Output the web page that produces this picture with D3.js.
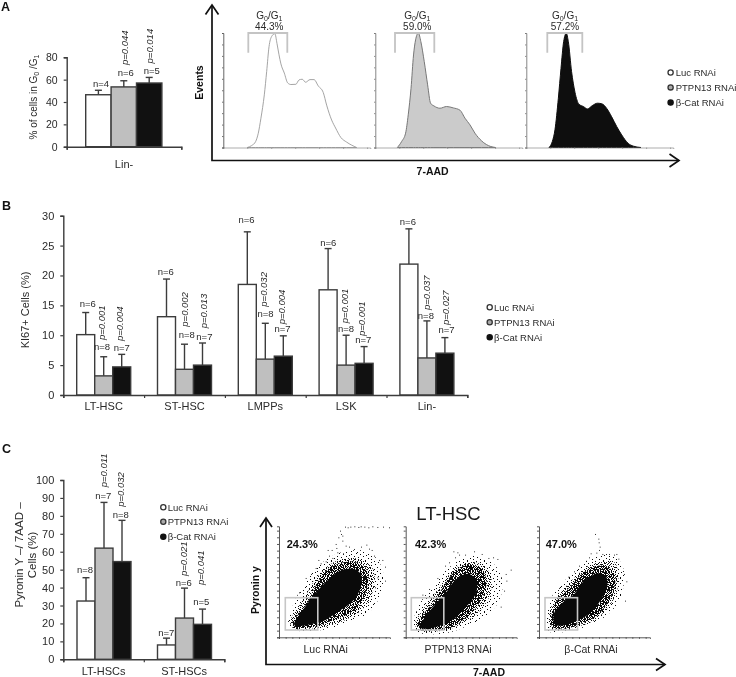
<!DOCTYPE html>
<html><head><meta charset="utf-8">
<script src="https://cdn.jsdelivr.net/npm/d3@7"></script>
<style>
html,body{margin:0;padding:0;background:#fff}
svg{display:block;filter:blur(0.35px)}
text{font-family:"Liberation Sans",Arial,sans-serif;fill:#2a2a2a}
</style></head><body><div id="c"></div>
<script>
// ---------- data ----------
const seriesNames = ["Luc RNAi","PTPN13 RNAi","β-Cat RNAi"];

const linCats = ["Lin-"];
const g0Means = [[46.5,53.5,57]];
const g0Tops  = [[50.5,59,62]];
const g0N     = [[4,6,5]];
const g0P     = [["0.044","0.014"]];

const ki67Cats  = ["LT-HSC","ST-HSC","LMPPs","LSK","Lin-"];
const ki67Means = [[10.1,3.2,4.7],[13.1,4.3,5],[18.5,6,6.5],[17.6,5,5.3],[21.9,6.2,7]];
const ki67Tops  = [[13.8,6.4,6.8],[19.4,8.5,8.7],[27.3,12,9.9],[24.5,10,8.1],[27.8,12.4,9.6]];
const ki67N     = [[6,8,7],[6,8,7],[6,8,7],[6,8,7],[6,8,7]];
const ki67P     = [["0.001","0.004"],["0.002","0.013"],["0.032","0.004"],["0.001","0.001"],["0.037","0.027"]];

const pyCats  = ["LT-HSCs","ST-HSCs"];
const pyMeans = [[32.5,62,54.5],[8,23,19.5]];
const pyTops  = [[45.5,87.5,77.5],[11.8,39.7,28]];
const pyN     = [[8,7,8],[7,6,5]];
const pyP     = [["0.011","0.032"],["0.021","0.041"]];

// histograms: [channel, % of max]
const histLuc = [[16.3,0],[19.3,1.7],[22,5.2],[23.8,12.5],[25.6,25.6],[27.9,46],[29.5,66.3],[31.1,88],[32.9,97],[35.1,99.4],[36.5,91],[37.9,81],[39.2,73],[41.5,65],[43.8,56.4],[46,55],[49.4,55.2],[51.5,59],[53.7,59.6],[56,57],[59,59.3],[61.7,59.3],[64.6,53.8],[68,48],[70.3,37],[73.7,24],[76.4,17],[80,8.7],[83.9,4.7],[90.7,0]];
const histPtpn = [[15,0],[17.9,5.2],[20.6,12.5],[22.4,28.5],[24.3,51.7],[26,80.8],[27.4,94],[29.3,100],[31,92.4],[33.3,75],[35.6,54.7],[37.6,38.7],[39.9,36.3],[44,34.3],[48.5,35.8],[53,34.6],[57.6,32.6],[61,25.6],[64.4,19.8],[67.8,12.5],[72.3,5.8],[76.9,1.7],[81.9,0]];
const histCat = [[15.4,0],[17.7,5.2],[19.5,15.4],[21.8,43],[23.6,69],[25.4,92.4],[27.2,99.7],[28.6,92.4],[30.8,66.3],[33.1,48.3],[35.8,37.8],[38.8,35.8],[41.7,33.7],[44.9,36.6],[48.5,38.7],[51.7,38],[54.6,34.3],[58,27],[61.5,18.3],[64.9,11],[69.4,3.5],[72.8,1.2],[78,0]];
const histPct = ["44.3%","59.0%","57.2%"];

// Scatter density outlines and hand-read stray events, in channel units [0,333]
const scCore1 = [[45,40],[60,66],[80,94],[100,120],[125,150],[150,175],[175,195],[200,205],[225,205],[245,190],[248,162],[238,132],[222,110],[205,95],[185,82],[160,65],[135,50],[108,42],[73,35],[48,35]];
const scIn1   = [[40,42],[60,72],[85,104],[113,160],[143,202],[183,222],[223,227],[258,212],[268,182],[262,142],[245,102],[218,75],[178,57],[138,42],[108,32],[48,30]];
const scMid1  = [[33,45],[50,80],[75,115],[105,168],[148,215],[190,235],[240,235],[282,205],[285,155],[270,110],[240,75],[195,50],[140,32],[105,27],[45,26]];
const scOut1  = [[28,40],[50,115],[80,165],[110,205],[145,235],[200,258],[270,255],[310,205],[305,130],[270,75],[200,42],[130,22],[45,22]];
const scDots1 = [[198,332],[206,330],[214,332],[226,333],[238,331],[245,333],[256,332],[268,330],[280,333],[295,331],[312,332],[330,330],[183,320],[186,310],[178,300],[190,290],[170,280],[200,275],[158,262],[175,255],[192,252],[150,245],[160,238],[140,228],[125,222],[110,208],[210,272],[225,265],[270,266],[285,245],[300,232],[310,232],[278,262],[295,180],[288,150],[318,170],[190,305],[172,268],[146,262],[118,232],[96,190],[80,178],[60,135],[246,272],[318,212],[262,278]];
const scCore2 = [[41,33],[56,58],[76,84],[98,110],[118,130],[138,160],[163,183],[190,190],[212,172],[212,135],[196,108],[175,85],[153,62],[128,45],[98,33],[68,26],[43,28]];
const scIn2   = [[34,38],[52,68],[80,102],[112,150],[147,198],[182,218],[222,212],[242,172],[232,122],[205,82],[172,52],[132,28],[90,22],[45,22]];
const scMid2  = [[28,38],[48,78],[78,118],[112,165],[153,210],[190,226],[236,214],[258,172],[248,116],[215,72],[170,42],[126,22],[88,18],[45,18]];
const scOut2  = [[22,32],[45,105],[82,155],[118,198],[158,230],[205,245],[262,222],[290,170],[278,105],[232,58],[170,28],[118,12],[45,12]];
const scDots2 = [[143,258],[155,255],[160,248],[205,258],[248,238],[275,235],[315,203],[300,190],[302,170],[295,140],[285,92],[130,225],[118,215],[95,178],[70,145],[50,128],[178,248],[228,250],[262,240],[148,240]];
const scCore3 = [[48,38],[45,72],[63,96],[83,115],[106,130],[126,160],[151,181],[178,192],[200,184],[205,152],[190,120],[170,90],[143,65],[113,50],[83,38]];
const scIn3   = [[40,32],[38,70],[53,108],[78,135],[103,162],[135,195],[165,212],[205,212],[228,185],[222,135],[200,95],[170,62],[130,42],[90,28]];
const scMid3  = [[35,26],[32,75],[50,118],[80,152],[112,184],[147,214],[190,226],[225,226],[237,195],[232,132],[205,87],[168,52],[120,33],[72,22]];
const scOut3  = [[28,18],[26,82],[46,135],[82,175],[118,210],[158,238],[220,248],[252,210],[248,128],[215,76],[165,42],[108,22],[50,14]];
const scDots3 = [[168,310],[178,296],[179,285],[182,272],[180,262],[155,252],[172,254],[190,250],[238,236],[225,248],[210,250],[120,215],[105,198],[88,182],[255,190],[262,168],[232,250],[60,148],[258,110],[150,240]];
const scPct = ["24.3%","42.3%","47.0%"];
const scLabels = seriesNames;

// Hand-drawn texture masks for event density
const denseMask = ["#.##.#.##..#.##.",".##.#..#.##.#..#","#..##.##.#.##.#.",".#.#.#..##.#.###","##..#.#.#..##.#.",".#.##.##.#.#..##","#.#..#.#.##.#.#.","..##.##..#.#.##.","#.#.#..##.#..#.#",".##.#.#.#.###.#.","#..#.##.#..#.#.#",".#.#.#..##.#.##.","##.#..#.#.##..#.",".#..##.#.#..#.##","#.##.#..##.#.#..",".#.#.#.#..#.##.#"];
const mediumMask = ["#...#..#...#.","..#....#.#...",".#..#.....#.#","...#..#.#....","#.....#...#..","..#.#....#..#",".....#.#.....","#.#.....#.#..","...#.#.....#.",".#....#.#....","...#.....#..#","#....#.#.....","..#.#.....#.."];
const sparseMask = ["#.......#........","....#.........#..","..........#......",".#....#..........","..............#..","........#........","...#.........#...","...........#.....","#.....#..........","................#","...#.......#.....",".........#.......","......#.......#..",".#...............","...........#.....","....#.........#..","........#........"];

// ---------- layout ----------
const W=736,H=677;
const svg=d3.select("#c").append("svg").attr("width",W).attr("height",H).attr("viewBox",`0 0 ${W} ${H}`);
const defs=svg.append("defs");
function tile(id,mask){
  const pts=[];
  mask.forEach((row,j)=>row.split("").forEach((ch,i)=>{if(ch==="#")pts.push([i,j]);}));
  const p=defs.append("pattern").attr("id",id).attr("patternUnits","userSpaceOnUse").attr("width",mask[0].length).attr("height",mask.length);
  p.selectAll("rect").data(pts).join("rect").attr("x",d=>d[0]).attr("y",d=>d[1]).attr("width",1).attr("height",1).attr("fill","#0a0a0a");
}
tile("dense",denseMask);tile("medium",mediumMask);tile("sparse",sparseMask);

const AXC="#3c3c3c", fills=["#fff","#bfbfbf","#111"];

function letter(t,x,y){svg.append("text").attr("x",x).attr("y",y).attr("font-size",12.5).attr("font-weight","bold").style("fill","#111").text(t);}
letter("A",1,11);letter("B",2,210);letter("C",2,453);

function barChart(c){
  const g=svg.append("g");
  const y=d3.scaleLinear().domain([0,c.max]).range([c.y0,c.y1]);
  const x=d3.scaleBand().domain(c.cats).range([c.x0,c.x1]);
  const edge=d3.scaleLinear().domain([0,c.cats.length]).range([c.x0,c.x1]);
  const inner=d3.scaleBand().domain([0,1,2]).range([c.pad,c.pad+c.bw*3]);

  c.cats.forEach((cat,i)=>{
    const gx=x(cat);
    [0,1,2].forEach(s=>{
      const bx=gx+inner(s), cx=bx+c.bw/2;
      g.append("line").attr("x1",cx).attr("x2",cx).attr("y1",y(c.means[i][s])).attr("y2",y(c.tops[i][s])).attr("stroke",AXC).attr("stroke-width",1.4);
      g.append("line").attr("x1",cx-3.5).attr("x2",cx+3.5).attr("y1",y(c.tops[i][s])).attr("y2",y(c.tops[i][s])).attr("stroke",AXC).attr("stroke-width",1.4);
      g.append("rect").attr("x",bx).attr("width",inner.bandwidth()).attr("y",y(c.means[i][s])).attr("height",c.y0-y(c.means[i][s]))
        .attr("fill",fills[s]).attr("stroke",AXC).attr("stroke-width",1.4);
      const k=i*3+s;
      g.append("text").attr("x",cx+c.nDx[k]).attr("y",y(c.tops[i][s])-c.nLift[k]).attr("text-anchor","middle").attr("font-size",9.5).text("n="+c.n[i][s]);
      if(s>0){
        const m=i*2+s-1, tx=cx+c.pDx[m]+3.2, ty=y(c.tops[i][s])-c.pLift[m];
        g.append("text").attr("transform",`translate(${tx},${ty}) rotate(-90)`).attr("font-size",9.5).attr("font-style","italic").text("p="+c.p[i][s-1]);
      }
    });
  });
  const ya=g.append("g").attr("transform",`translate(${c.x0},0)`).call(d3.axisLeft(y).tickValues(c.ticks).tickSize(3).tickPadding(6));
  const xa=g.append("g").attr("transform",`translate(0,${c.y0})`).call(d3.axisBottom(edge).tickValues(d3.range(c.cats.length+1)).tickSize(3).tickFormat(""));
  const xl=g.append("g").attr("transform",`translate(0,${c.y0})`).call(d3.axisBottom(x).tickSize(0).tickPadding(c.lp));
  xl.select(".domain").remove();
  [ya,xa].forEach(a=>{a.select(".domain").attr("stroke",AXC).attr("stroke-width",1.4);a.selectAll("line").attr("stroke",AXC).attr("stroke-width",1.2);});
  ya.attr("font-family",null);xl.attr("font-family",null);
  ya.selectAll("text").attr("font-size",c.tf).style("fill","#2a2a2a");
  xl.selectAll("text").attr("font-size",11).style("fill","#2a2a2a");
}

barChart({cats:linCats,means:g0Means,tops:g0Tops,n:g0N,p:g0P,max:80,ticks:[0,20,40,60,80],
  x0:66.7,x1:181.3,y0:146.7,y1:57.3,pad:19,bw:25.4,tf:10.5,lp:14,
  nDx:[2.6,1.9,2.5],nLift:[3.6,4.8,3.4],pDx:[1.2,.1],pLift:[15.8,14]});
barChart({cats:ki67Cats,means:ki67Means,tops:ki67Tops,n:ki67N,p:ki67P,max:30,ticks:d3.range(0,31,5),
  x0:63.3,x1:467.3,y0:395,y1:215.7,pad:13.4,bw:18,tf:11,lp:7,
  nDx:[2,-1.7,0,-.7,2.3,1.9,-.7,.3,-.7,.2,0,-.8,-1,-1,1.6],nLift:[5.3,6.7,3.3,4,6,3.5,9,6,3.5,3,3.5,3.5,3.5,2,4.5],
  pDx:[-2,-1.7,.6,.9,-1.1,-1.7,-1.1,-2.4,0,1],pLift:[16.7,13.3,17.5,14.7,16.6,11.5,11.9,10.6,10.9,12.6]});
barChart({cats:pyCats,means:pyMeans,tops:pyTops,n:pyN,p:pyP,max:100,ticks:d3.range(0,101,10),
  x0:63.3,x1:224.3,y0:659.3,y1:480,pad:13.7,bw:18,tf:11,lp:8,
  nDx:[-1,-.7,-1.3,-.3,-.7,-1.3],nLift:[5,3.6,2.4,2.3,2.3,4],pDx:[-.7,-1.3,-1,-1.3],pLift:[15.1,13.6,12,24]});

function rotText(t,x,y,size,bold){
  return svg.append("text").attr("transform",`translate(${x},${y}) rotate(-90)`).attr("text-anchor","middle").attr("font-size",size).attr("font-weight",bold?"bold":null).text(t);
}
const t1=rotText("",37,97,10);
t1.append("tspan").text("% of cells in G");
t1.append("tspan").attr("dy",2).attr("font-size",7).text("0");
t1.append("tspan").attr("dy",-2).text(" /G");
t1.append("tspan").attr("dy",2).attr("font-size",7).text("1");
rotText("KI67+ Cells (%)",29,310,11);
rotText("Pyronin Y –/ 7AAD –",23,555,11.5);
rotText("Cells (%)",35.5,555,11.5);

function legend(x,ys,tx){
  ys.forEach((yy,i)=>{
    svg.append("circle").attr("cx",x).attr("cy",yy).attr("r",2.6).attr("fill",["#fff","#aaa","#111"][i]).attr("stroke",i==2?"#111":"#333").attr("stroke-width",1.3);
    svg.append("text").attr("x",tx).attr("y",yy+3.4).attr("font-size",9.5).text(seriesNames[i]);
  });
}
legend(670.6,[72.5,87.4,102.6],675.7);
legend(489.7,[307.3,322.3,337.3],494);
legend(163.3,[507.3,521.7,536.7],167.7);

function lAxes(x0,yTop,y0,xTip,hw,hl){
  const a=svg.append("g").attr("fill","none").attr("stroke","#111").attr("stroke-width",1.7);
  a.append("path").attr("d",d3.line()([[x0,yTop],[x0,y0],[xTip,y0]]));
  a.append("path").attr("d",d3.line()([[x0-hw,yTop+hl],[x0,yTop],[x0+hw,yTop+hl]]));
  a.append("path").attr("d",d3.line()([[xTip-hl,y0-hw],[xTip,y0],[xTip-hl,y0+hw]]));
}
lAxes(212,5,160.5,679,6.5,9.5);
lAxes(266,518,664.5,665,6,9);
rotText("Events",203,82.5,10.5,true).style("fill","#111");
svg.append("text").attr("x",432.6).attr("y",175).attr("text-anchor","middle").attr("font-size",10.5).attr("font-weight","bold").style("fill","#111").text("7-AAD");

const histLefts=[223.3,375.3,526.3];
const gates=[[248.3,287.3,269.3],[395,434.3,417.3],[547.3,582.3,565]];
const histStyle=[{f:"#fff",s:"#9a9a9a",a:"#555"},{f:"#cbcbcb",s:"#777",a:"#777"},{f:"#0e0e0e",s:"#0e0e0e",a:"#777"}];
[histLuc,histPtpn,histCat].forEach((d,i)=>{
  const L=histLefts[i], st=histStyle[i];
  const x=d3.scaleLinear().domain([0,100]).range([L,L+147]);
  const y=d3.scaleLinear().domain([0,100]).range([147.5,33]);
  const g=svg.append("g");
  const area=d3.area().x(p=>x(p[0])).y0(y(0)).y1(p=>y(p[1])).curve(d3.curveMonotoneX);
  g.append("path").attr("d",area(d)).attr("fill",st.f).attr("stroke",st.s).attr("stroke-width",i==0?0.9:1);
  const ax=g.append("g").attr("transform",`translate(0,${y(0)})`).call(d3.axisBottom(x).tickValues(d3.range(0,101,16.3)).tickSize(1.5).tickFormat(""));
  const ay=g.append("g").attr("transform",`translate(${L},0)`).call(d3.axisLeft(y).tickValues(d3.range(0,101,10)).tickSize(1.2).tickFormat(""));
  ax.selectAll("path,line").attr("stroke","#8a8a8a").attr("stroke-width",.7);
  ay.selectAll("path,line").attr("stroke",st.a).attr("stroke-width",.9);
  const [a,b,c]=gates[i];
  g.append("path").attr("d",d3.line()([[a,52.7],[a,33],[b,33],[b,52.7]])).attr("fill","none").attr("stroke","#c4c4c4").attr("stroke-width",1.8);
  const tt=g.append("text").attr("x",c).attr("y",19).attr("text-anchor","middle").attr("font-size",10);
  tt.append("tspan").text("G");tt.append("tspan").attr("dy",2).attr("font-size",7).text("0");
  tt.append("tspan").attr("dy",-2).text("/G");tt.append("tspan").attr("dy",2).attr("font-size",7).text("1");
  g.append("text").attr("x",c).attr("y",30).attr("text-anchor","middle").attr("font-size",10).text(histPct[i]);
});

svg.append("text").attr("x",448.5).attr("y",520).attr("text-anchor","middle").attr("font-size",18.5).style("fill","#1a1a1a").text("LT-HSC");
rotText("Pyronin y",259,590,10.5,true).style("fill","#111");
svg.append("text").attr("x",489).attr("y",676).attr("text-anchor","middle").attr("font-size",10.5).attr("font-weight","bold").style("fill","#111").text("7-AAD");
const scLefts=[279,405.7,539];
const scGateX=[6.3,5.6,6];
const scPctX=[7.7,9.3,6.7];
const scLabX=[325.7,458,591];
[[scCore1,scIn1,scMid1,scOut1,scDots1],[scCore2,scIn2,scMid2,scOut2,scDots2],[scCore3,scIn3,scMid3,scOut3,scDots3]].forEach((p,i)=>{
  const L=scLefts[i];
  const x=d3.scaleLinear().domain([0,333]).range([L,L+111]);
  const y=d3.scaleLinear().domain([0,333]).range([637.3,526.3]);
  const g=svg.append("g");
  const ln=d3.line().x(d=>x(d[0])).y(d=>y(d[1])).curve(d3.curveCatmullRomClosed);
  g.append("path").attr("d",ln(p[3])).attr("fill","url(#sparse)");
  g.append("path").attr("d",ln(p[2])).attr("fill","url(#medium)");
  g.append("path").attr("d",ln(p[1])).attr("fill","url(#dense)");
  g.append("path").attr("d",ln(p[0])).attr("fill","#0a0a0a");
  g.selectAll("rect.e").data(p[4]).join("rect").attr("class","e").attr("x",d=>x(d[0])).attr("y",d=>y(d[1])).attr("width",1).attr("height",1).attr("fill","#333");
  const ax=g.append("g").attr("transform",`translate(0,${y(0)})`).call(d3.axisBottom(x).tickValues(d3.range(0,334,20)).tickSize(1.5).tickFormat(""));
  const ay=g.append("g").attr("transform",`translate(${L},0)`).call(d3.axisLeft(y).tickValues(d3.range(0,334,20)).tickSize(2).tickFormat(""));
  [ax,ay].forEach(a=>a.selectAll("path,line").attr("stroke","#444").attr("stroke-width",.9));
  g.append("rect").attr("x",L+scGateX[i]).attr("width",32.5).attr("y",597.7).attr("height",32.3)
    .attr("fill","none").attr("stroke","#c6c6c6").attr("stroke-width",1.6);
  g.append("text").attr("x",L+scPctX[i]).attr("y",548.3).attr("font-size",11).attr("font-weight","bold").style("fill","#111").text(scPct[i]);
  g.append("text").attr("x",scLabX[i]).attr("y",653).attr("text-anchor","middle").attr("font-size",10.5).text(scLabels[i]);
});
</script></body></html>
